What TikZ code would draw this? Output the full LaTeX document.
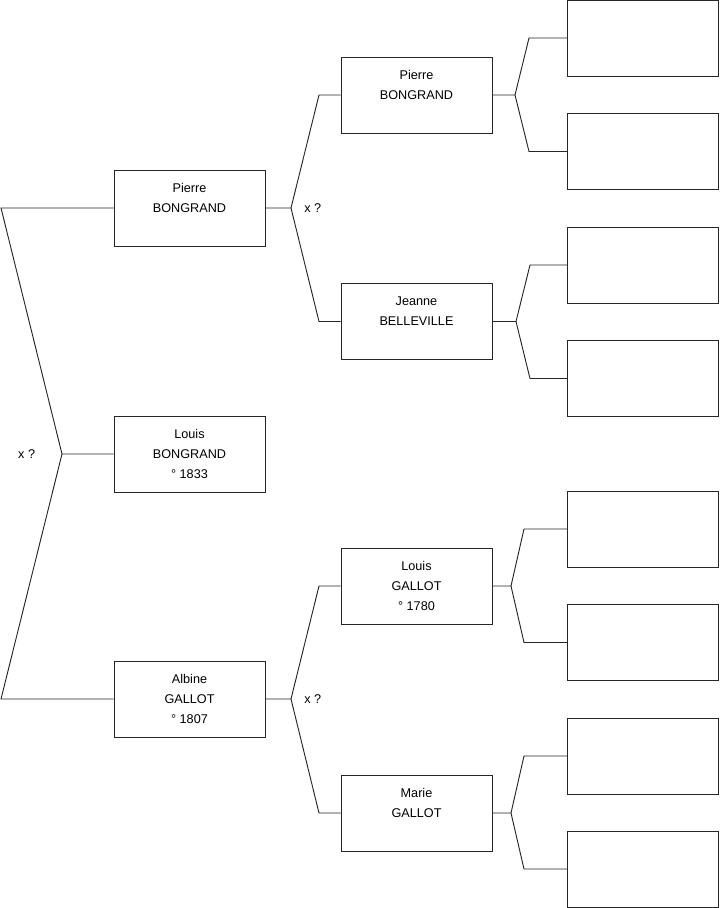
\documentclass[tikz,border=0pt]{standalone}
\usepackage{fontspec}
\setmainfont{Liberation Sans}
\usetikzlibrary{positioning}

% child anchor, fork name, fork x, bend x, father, mother
\newcommand\couple[6]{%
  \coordinate (#2) at (#1 -| #3,0);
  \draw[link] (#1) -- (#2) -- (#5.west -| #4,0) -- (#5.west);
  \draw[link] (#2) -- (#6.west -| #4,0) -- (#6.west);
}

\begin{document}
\begin{tikzpicture}[
  x=0.75pt,y=-0.75pt,
  person/.style={draw=black!85,line width=0.7pt,fill=white,align=center,
    minimum width=113.25pt,minimum height=57pt,inner sep=0pt,
    font=\fontsize{9.5}{15}\selectfont},
  link/.style={draw=black!85,line width=0.7pt},
  wed/.style={font=\fontsize{9.5}{15}\selectfont,inner sep=0pt}
]
\useasboundingbox (0,0) rectangle (719,908);

% generation 0 and 1
\node[person] (louis) at (189.5,454) {Louis\\BONGRAND\\° 1833};
\node[person] (pierre) at (189.5,208) {Pierre\\BONGRAND\\\mbox{}};
\node[person] (albine) at (189.5,699) {Albine\\GALLOT\\° 1807};

% generation 2
\node[person] (pierreB) at (416.5,95) {Pierre\\BONGRAND\\\mbox{}};
\node[person] (jeanne) at (416.5,321.5) {Jeanne\\BELLEVILLE\\\mbox{}};
\node[person] (louisG) at (416.5,586) {Louis\\GALLOT\\° 1780};
\node[person] (marie) at (416.5,813) {Marie\\GALLOT\\\mbox{}};

% generation 3 (unknown)
\node[person] (e1) at (643,38) {};
\node[person] (e2) at (643,151.5) {};
\node[person] (e3) at (643,265) {};
\node[person] (e4) at (643,378.5) {};
\node[person] (e5) at (643,529) {};
\node[person] (e6) at (643,642.5) {};
\node[person] (e7) at (643,756) {};
\node[person] (e8) at (643,869) {};

\couple{louis.west}{k0}{62}{1}{pierre}{albine}
\couple{pierre.east}{k1}{291}{319}{pierreB}{jeanne}
\couple{albine.east}{k2}{291}{319}{louisG}{marie}
\couple{pierreB.east}{k3}{515}{529}{e1}{e2}
\couple{jeanne.east}{k4}{516}{530}{e3}{e4}
\couple{louisG.east}{k5}{511}{524}{e5}{e6}
\couple{marie.east}{k6}{511}{524}{e7}{e8}

\node[wed,left=20pt of k0] (x0) {x ?};
\node[wed,right=9.75pt of k1] (x1) {x ?};
\node[wed,right=9.75pt of k2] (x2) {x ?};
\end{tikzpicture}
\end{document}
